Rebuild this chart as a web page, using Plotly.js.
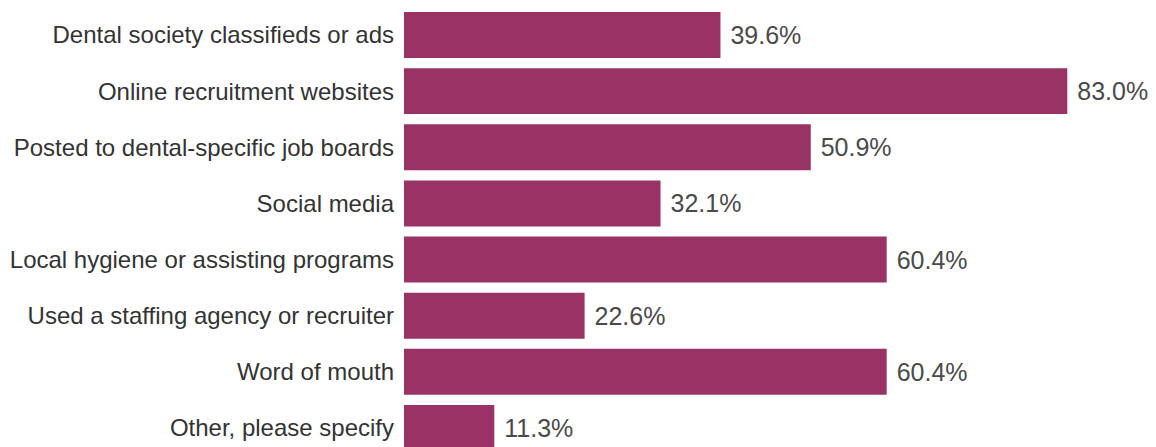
<!DOCTYPE html>
<html>
<head>
<meta charset="utf-8">
<script src="https://cdn.plot.ly/plotly-3.0.1.min.js"></script>
<style>html,body{margin:0;padding:0;background:#fff;}#chart{width:1156px;height:447px;}</style>
</head>
<body>
<div id="chart"></div>
<script>
const categories = [
  "Dental society classifieds or ads",
  "Online recruitment websites",
  "Posted to dental-specific job boards",
  "Social media",
  "Local hygiene or assisting programs",
  "Used a staffing agency or recruiter",
  "Word of mouth",
  "Other, please specify"
];
const values = [39.6, 83.0, 50.9, 32.1, 60.4, 22.6, 60.4, 11.3];
const valueLabels = values.map(v => "\u00a0" + v.toFixed(1) + "%");

const trace = {
  type: "bar",
  orientation: "h",
  y: categories.map((c, i) => i),
  x: values,
  text: valueLabels,
  textposition: "outside",
  cliponaxis: false,
  textfont: {family: "Liberation Sans, Arial, sans-serif", size: 25, color: "#4a4a4a"},
  marker: {color: "#993366"},
  hoverinfo: "none"
};

const layout = {
  width: 1156, height: 447,
  margin: {l: 404, r: 0, t: 0, b: 0, pad: 0},
  paper_bgcolor: "#fff", plot_bgcolor: "#fff",
  bargap: 0.181,
  showlegend: false,
  font: {family: "Liberation Sans, Arial, sans-serif", color: "#333"},
  xaxis: {range: [0, 94.1], visible: false, fixedrange: true},
  yaxis: {
    range: [7.339, -0.6234],
    tickmode: "array",
    tickvals: categories.map((c, i) => i),
    ticktext: categories,
    showgrid: false, zeroline: false, showline: false,
    ticks: "", ticklabelstandoff: 9,
    tickfont: {size: 24, color: "#333"},
    fixedrange: true
  }
};

Plotly.newPlot("chart", [trace], layout, {displayModeBar: false, staticPlot: true});
</script>
</body>
</html>
